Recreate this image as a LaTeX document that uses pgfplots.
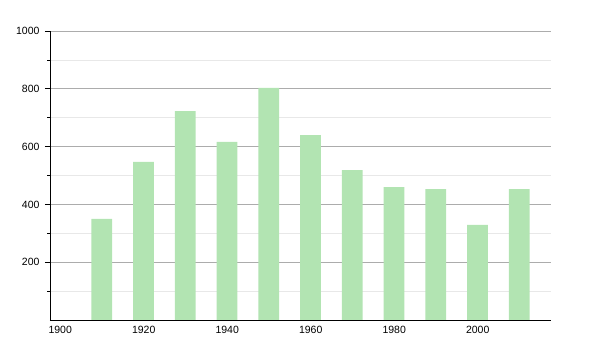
\documentclass[border=0pt]{standalone}
\usepackage{pgfplots}
\pgfplotsset{compat=1.18}
\usepackage{fontspec}
\setmainfont{Liberation Sans}
\definecolor{barg}{RGB}{178,228,178}
\begin{document}
\fontsize{10bp}{12bp}\selectfont
\begin{tikzpicture}
\path[use as bounding box] (-50bp,-30bp) rectangle (550bp,320bp);
\begin{axis}[
  scale only axis, width=501bp, height=289bp,
  at={(0,0)}, anchor=south west,
  xmin=1900, xmax=2020, ymin=0, ymax=1000,
  axis x line*=bottom, axis y line*=left,
  axis line style={black, line width=0.8pt},
  xtick={1900,1920,...,2000},
  ytick={200,400,...,1000},
  minor ytick={100,300,...,900},
  ymajorgrids, yminorgrids,
  major grid style={draw=gray!65, line width=0.6pt},
  minor grid style={draw=gray!18, line width=0.6pt},
  x tick style={draw=none},
  y tick style={draw=black, line width=0.6pt},
  tick align=outside,
  major tick length=5bp, minor tick length=2.5bp,
  x tick label style={anchor=north west, xshift=-5bp, yshift=2bp},
  y tick label style={xshift=-2bp},
  /pgf/number format/1000 sep={},
  /pgf/number format/assume math mode=true,
  tick label style={font=\fontsize{10.5bp}{12bp}\selectfont},
]
\addplot[ybar, bar width=5, bar shift=0pt, fill=barg, draw=none] coordinates {
(1912.4,350) (1922.4,547) (1932.4,723) (1942.4,616) (1952.4,803) (1962.4,640)
(1972.4,519) (1982.4,460) (1992.4,453) (2002.4,329) (2012.4,453)
};
\end{axis}
\end{tikzpicture}
\end{document}
